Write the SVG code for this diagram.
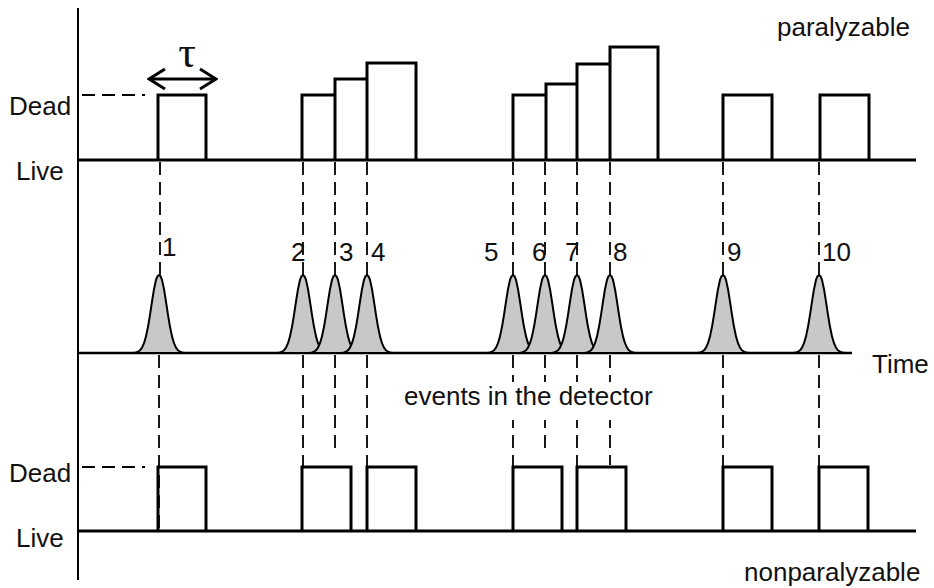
<svg xmlns="http://www.w3.org/2000/svg" width="934" height="588" viewBox="0 0 934 588">
<style>
.t{font-family:"Liberation Sans",Arial,sans-serif;font-size:26px;fill:#111}
.ax{stroke:#000;stroke-width:2;fill:none}
.base{stroke:#000;stroke-width:3;fill:none}
.pulse{stroke:#000;stroke-width:3;fill:none;stroke-linejoin:miter}
.dash{stroke:#000;stroke-width:1.8;fill:none;stroke-dasharray:13 7}
.peak{fill:#c8c8c8;stroke:#000;stroke-width:2;stroke-linejoin:round}
</style>
<defs>
<path id="pk" d="M-26,0 L-23,-0.5 L-21,-1.2 L-19,-2.7 L-17,-5.3 L-15,-9.8 L-13,-16.6 L-11,-26.2 L-9,-38.2 L-7,-51.4 L-5,-63.8 L-3,-73.1 L-1.5,-76.8 L0,-78 L1.5,-76.8 L3,-73.1 L5,-63.8 L7,-51.4 L9,-38.2 L11,-26.2 L13,-16.6 L15,-9.8 L17,-5.3 L19,-2.7 L21,-1.2 L23,-0.5 L26,0 Z"/>
<marker id="chev" viewBox="0 0 20 24" refX="18" refY="12" markerWidth="20" markerHeight="24" markerUnits="userSpaceOnUse" orient="auto-start-reverse">
<path d="M2,2 L18,12 L2,22" fill="none" stroke="#000" stroke-width="3"/>
</marker>
</defs>
<rect width="934" height="588" fill="#fff"/>

<g id="axis">
<line class="ax" x1="78" y1="8" x2="78" y2="580"/>
</g>

<g id="connectors">
<line class="dash" x1="82" y1="95" x2="145" y2="95"/>
<line class="dash" x1="82" y1="467" x2="145" y2="467"/>
<line class="dash" x1="160" y1="162" x2="160" y2="280"/>
<line class="dash" x1="303" y1="162" x2="303" y2="280"/>
<line class="dash" x1="335" y1="162" x2="335" y2="280"/>
<line class="dash" x1="367" y1="162" x2="367" y2="280"/>
<line class="dash" x1="513" y1="162" x2="513" y2="280"/>
<line class="dash" x1="545" y1="162" x2="545" y2="280"/>
<line class="dash" x1="577" y1="162" x2="577" y2="280"/>
<line class="dash" x1="610" y1="162" x2="610" y2="280"/>
<line class="dash" x1="723" y1="162" x2="723" y2="280"/>
<line class="dash" x1="819" y1="162" x2="819" y2="280"/>

<line class="dash" x1="159" y1="355" x2="159" y2="531"/>
<line class="dash" x1="303" y1="355" x2="303" y2="467"/>
<line class="dash" x1="335" y1="355" x2="335" y2="449"/>
<line class="dash" x1="367" y1="355" x2="367" y2="467"/>
<line class="dash" x1="513" y1="355" x2="513" y2="467"/>
<line class="dash" x1="545" y1="355" x2="545" y2="450"/>
<line class="dash" x1="577" y1="355" x2="577" y2="467"/>
<line class="dash" x1="610" y1="355" x2="610" y2="465"/>
<line class="dash" x1="723" y1="355" x2="723" y2="467"/>
<line class="dash" x1="819" y1="355" x2="819" y2="467"/>
</g>

<g id="paralyzable">
<line class="base" x1="78" y1="160" x2="916" y2="160"/>
<path class="pulse" d="M158,160 V95 H206 V160"/>
<path class="pulse" d="M302,160 V95 H335 V79 H367 V63 H416 V160 M335,95 V160 M367,79 V160"/>
<path class="pulse" d="M513,160 V95 H546 V84 H577 V64 H610 V47 H658 V160 M546,95 V160 M577,84 V160 M610,64 V160"/>
<path class="pulse" d="M723,160 V95 H772 V160"/>
<path class="pulse" d="M820,160 V95 H869 V160"/>
<line x1="149" y1="79" x2="216" y2="79" stroke="#000" stroke-width="3" marker-start="url(#chev)" marker-end="url(#chev)"/>
<text x="187" y="67" text-anchor="middle" style="font-family:'Liberation Serif','Times New Roman',serif;font-size:44px;fill:#111">τ</text>
<text class="t" x="777" y="36">paralyzable</text>
<text class="t" x="9" y="115">Dead</text>
<text class="t" x="16" y="180">Live</text>
</g>

<g id="events">
<line class="base" x1="78" y1="353" x2="852" y2="353" style="stroke-width:2.5"/>
<use href="#pk" class="peak" transform="translate(159,353)"/>
<use href="#pk" class="peak" transform="translate(303,353)"/>
<use href="#pk" class="peak" transform="translate(335,353)"/>
<use href="#pk" class="peak" transform="translate(367,353)"/>
<use href="#pk" class="peak" transform="translate(513,353)"/>
<use href="#pk" class="peak" transform="translate(545,353)"/>
<use href="#pk" class="peak" transform="translate(577,353)"/>
<use href="#pk" class="peak" transform="translate(610,353)"/>
<use href="#pk" class="peak" transform="translate(723,353)"/>
<use href="#pk" class="peak" transform="translate(819,353)"/>
<text class="t" x="162" y="256">1</text>
<text class="t" x="291" y="261">2</text>
<text class="t" x="339" y="261">3</text>
<text class="t" x="371" y="261">4</text>
<text class="t" x="484" y="261">5</text>
<text class="t" x="532" y="261">6</text>
<text class="t" x="565" y="261">7</text>
<text class="t" x="613" y="261">8</text>
<text class="t" x="727" y="261">9</text>
<text class="t" x="822" y="261">10</text>
<text class="t" x="872" y="373">Time</text>
<rect x="400" y="382" width="262" height="38" fill="#fff"/>
<text class="t" x="404" y="405">events in the detector</text>
</g>

<g id="nonparalyzable">
<line class="base" x1="78" y1="531" x2="916" y2="531"/>
<path class="pulse" d="M158,531 V467 H206 V531"/>
<path class="pulse" d="M302,531 V467 H351 V531"/>
<path class="pulse" d="M367,531 V467 H416 V531"/>
<path class="pulse" d="M513,531 V467 H562 V531"/>
<path class="pulse" d="M577,531 V467 H626 V531"/>
<path class="pulse" d="M723,531 V467 H772 V531"/>
<path class="pulse" d="M819,531 V467 H868 V531"/>
<text class="t" x="9" y="482">Dead</text>
<text class="t" x="16" y="547">Live</text>
<text class="t" x="744" y="581">nonparalyzable</text>
</g>
</svg>
